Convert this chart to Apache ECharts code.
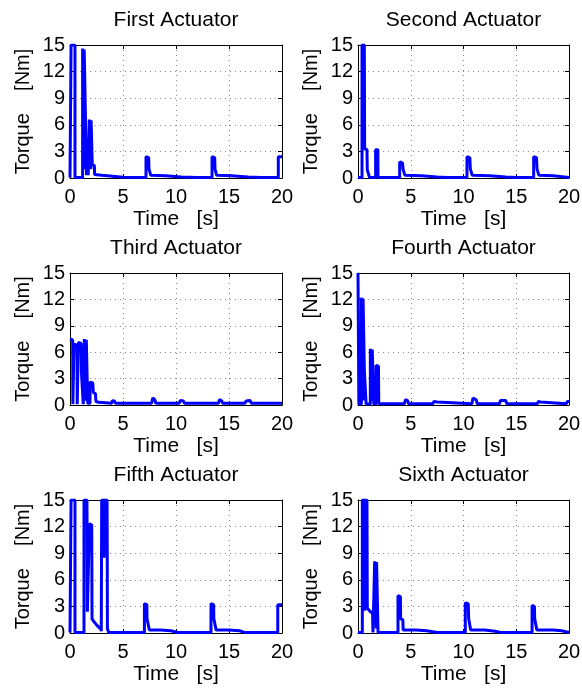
<!DOCTYPE html>
<html><head><meta charset="utf-8">
<script src="https://cdn.jsdelivr.net/npm/echarts@6/dist/echarts.min.js"></script>
<style>html,body{margin:0;padding:0;background:#fff}#c{width:582px;height:688px}</style>
</head><body><div id="c"></div>
<script>
const titles = ['First Actuator','Second Actuator','Third Actuator','Fourth Actuator','Fifth Actuator','Sixth Actuator'];
const xTicks = [0,5,10,15,20];
const yTicks = [0,3,6,9,12,15];

const t1 = [0,0.1,0.1,0.47,0.47,1.19,1.19,1.3,1.32,1.34,1.5,1.56,1.64,1.64,1.72,1.72,1.82,1.82,1.95,1.97,1.99,2.08,2.1,2.3,2.32,3.0,4.0,5.0,7.17,7.17,7.42,7.45,7.6,7.62,9.0,10.5,12,13.4,13.4,13.65,13.68,13.82,13.84,15.2,16.8,18,19.65,19.65,20];
const v1 = [0.05,0.05,15,15,0.05,0.05,14.6,14.5,1.0,14.5,14.4,0.3,0.3,4.5,4.5,0.3,0.3,6.6,6.5,1.0,6.5,6.5,1.5,1.4,0.4,0.3,0.2,0.08,0.05,2.4,2.3,1.0,0.9,0.3,0.25,0.12,0.05,0.05,2.4,2.3,1.0,0.9,0.3,0.25,0.1,0.05,0.05,2.4,2.4];

const t2 = [0,0.38,0.38,0.6,0.63,0.85,0.88,1.05,1.1,1.67,1.67,1.88,1.9,3.95,3.95,4.22,4.27,4.42,4.45,6,7.5,8.5,10.33,10.33,10.6,10.65,10.8,10.83,12.5,14,15,16.65,16.65,16.92,16.97,17.12,17.15,18.5,20];
const v2 = [0.05,0.05,15,15,3.3,3.2,0.9,0.8,0.05,0.05,3.2,3.2,0.05,0.05,1.8,1.7,1.0,0.9,0.3,0.25,0.12,0.05,0.05,2.4,2.3,1.0,0.9,0.3,0.25,0.1,0.05,0.05,2.4,2.3,1.0,0.9,0.3,0.25,0.05];

const t3 = [0,0.25,0.27,0.38,0.38,0.66,0.68,0.79,0.79,1.05,1.08,1.22,1.25,1.35,1.35,1.5,1.52,1.54,1.64,1.67,1.89,1.89,2.15,2.2,2.4,2.45,2.7,2.75,3.94,4.0,4.2,4.3,7.7,7.8,8.0,8.1,10.3,10.4,10.7,10.8,14.0,14.1,14.3,14.4,16.5,16.6,17.0,17.1,20];
const v3 = [7.5,7.4,0.1,0.1,6.9,6.8,0.1,0.1,7.1,7.0,3.7,3.6,0.1,0.1,7.5,7.4,0.5,7.4,7.4,0.2,0.2,2.6,2.5,1.4,1.3,0.4,0.3,0.2,0.2,0.5,0.45,0.2,0.2,0.8,0.6,0.2,0.2,0.5,0.45,0.2,0.2,0.6,0.5,0.2,0.2,0.45,0.5,0.2,0.2];

const t4 = [0,0.06,0.08,0.32,0.32,0.44,0.46,0.48,0.57,0.6,0.74,0.77,1.17,1.17,1.31,1.33,1.35,1.47,1.5,1.71,1.71,1.94,1.97,4.4,4.5,4.7,4.8,7.1,7.2,7.5,7.6,10.8,10.9,11.2,11.3,13.4,13.5,14.0,14.1,17.0,17.1,17.3,17.4,19.75,19.85,20];
const v4 = [15,15,0.1,0.1,12.2,12.2,0.5,12.1,12.1,4.0,3.9,0.1,0.1,6.4,6.4,0.5,6.3,6.3,0.1,0.1,4.5,4.4,0.15,0.15,0.6,0.5,0.15,0.15,0.4,0.35,0.15,0.15,0.8,0.6,0.15,0.15,0.5,0.5,0.15,0.15,0.4,0.35,0.15,0.15,0.4,0.4];

const t5 = [0,0.1,0.1,0.47,0.47,1.32,1.32,1.6,1.64,1.8,1.83,2.05,2.08,2.3,2.6,2.85,2.9,2.95,2.99,2.99,3.2,3.22,3.24,3.5,3.53,3.6,3.65,7.02,7.02,7.25,7.27,7.45,7.48,8.5,9.5,10.2,13.3,13.3,13.55,13.57,13.75,13.78,15,16,16.5,19.6,19.6,20];
const v5 = [0.05,0.05,15,15,0.05,0.05,15,15,2.4,2.3,12.3,12.2,1.6,1.2,0.8,0.5,0.8,0.2,0.2,15,15,8.5,15,15,0.5,0.3,0.05,0.05,3.3,3.2,1.6,1.5,0.35,0.35,0.25,0.05,0.05,3.3,3.2,1.6,1.5,0.35,0.35,0.25,0.05,0.05,3.2,3.2];

const t6 = [0,0.41,0.41,0.62,0.64,0.66,0.85,0.88,1.1,1.38,1.42,1.58,1.58,1.72,1.74,1.76,1.87,1.9,3.79,3.79,4.02,4.04,4.25,4.28,5.5,6.5,7.5,10.17,10.17,10.45,10.49,10.65,10.68,12,13,13.5,16.5,16.5,16.72,16.75,16.92,16.95,18.5,19.3,20];
const v6 = [0.05,0.05,15,15,2.5,15,15,2.8,2.5,2.2,0.05,0.05,8.1,8.1,0.5,8.0,8.0,0.05,0.05,4.2,4.1,1.6,1.5,0.35,0.35,0.25,0.05,0.05,3.4,3.3,1.6,1.5,0.35,0.35,0.2,0.05,0.05,3.1,3.0,1.6,1.5,0.35,0.35,0.25,0.05];

const times = [t1,t2,t3,t4,t5,t6];
const vals = [v1,v2,v3,v4,v5,v6];

const FONT = 'Liberation Sans';
const lefts = [70, 358];
const tops = [45, 273, 500];
const widths = [212, 211];
const heights = [133, 132, 133];

const grids = [], xAxes = [], yAxes = [], series = [], graphics = [];
const tickStyle = {show: true, inside: true, length: 4, lineStyle: {color: '#000', width: 1}};
const lineStyle = {show: true, onZero: false, lineStyle: {color: '#000', width: 1}};
for (let i = 0; i < 6; i++) {
  const col = i % 2, row = Math.floor(i / 2);
  grids.push({left: lefts[col], top: tops[row], width: widths[col], height: heights[row],
    containLabel: false, outerBoundsMode: 'none', show: false});
  const xmin = xTicks[0], xmax = xTicks[xTicks.length-1], ymin = yTicks[0], ymax = yTicks[yTicks.length-1];
  xAxes.push({type: 'value', gridIndex: i, min: xmin, max: xmax, interval: 5,
    name: 'Time   [s]', nameLocation: 'middle', nameGap: 31,
    nameTextStyle: {fontFamily: FONT, fontSize: 21, color: '#000'},
    axisLine: lineStyle, axisTick: tickStyle,
    axisLabel: {fontFamily: FONT, fontSize: 20, color: '#000', margin: 9},
    splitLine: {show: true, lineStyle: {color: '#8a8a8a', width: 1, type: [1, 4]}}});
  xAxes.push({type: 'value', gridIndex: i, position: 'top', min: xmin, max: xmax, interval: 5,
    axisLine: lineStyle, axisTick: tickStyle, axisLabel: {show: false}, splitLine: {show: false}});
  yAxes.push({type: 'value', gridIndex: i, min: ymin, max: ymax, interval: 3,
    name: 'Torque    [Nm]', nameLocation: 'middle', nameGap: 37,
    nameTextStyle: {fontFamily: FONT, fontSize: 20, color: '#000'},
    axisLine: lineStyle, axisTick: tickStyle,
    axisLabel: {fontFamily: FONT, fontSize: 20, color: '#000', margin: 5},
    splitLine: {show: true, lineStyle: {color: '#8a8a8a', width: 1, type: [1, 4]}}});
  yAxes.push({type: 'value', gridIndex: i, position: 'right', min: ymin, max: ymax, interval: 3,
    axisLine: lineStyle, axisTick: tickStyle, axisLabel: {show: false}, splitLine: {show: false}});
  series.push({type: 'line', xAxisIndex: 2 * i, yAxisIndex: 2 * i, showSymbol: false, symbol: 'none',
    clip: true, animation: false, z: 1,
    lineStyle: {color: '#0000ff', width: 3}, itemStyle: {color: '#0000ff'},
    data: times[i].map((t, k) => [t, vals[i][k]])});
  graphics.push({type: 'text', x: lefts[col] + widths[col] / 2, y: tops[row] - 25,
    style: {text: titles[i], fontFamily: FONT, fontSize: 21, fill: '#000', textAlign: 'center', textVerticalAlign: 'middle'}});
}

const chart = echarts.init(document.getElementById('c'), null, {renderer: 'canvas'});
chart.setOption({animation: false, backgroundColor: '#fff', grid: grids, xAxis: xAxes, yAxis: yAxes, series: series, graphic: graphics});
</script></body></html>
